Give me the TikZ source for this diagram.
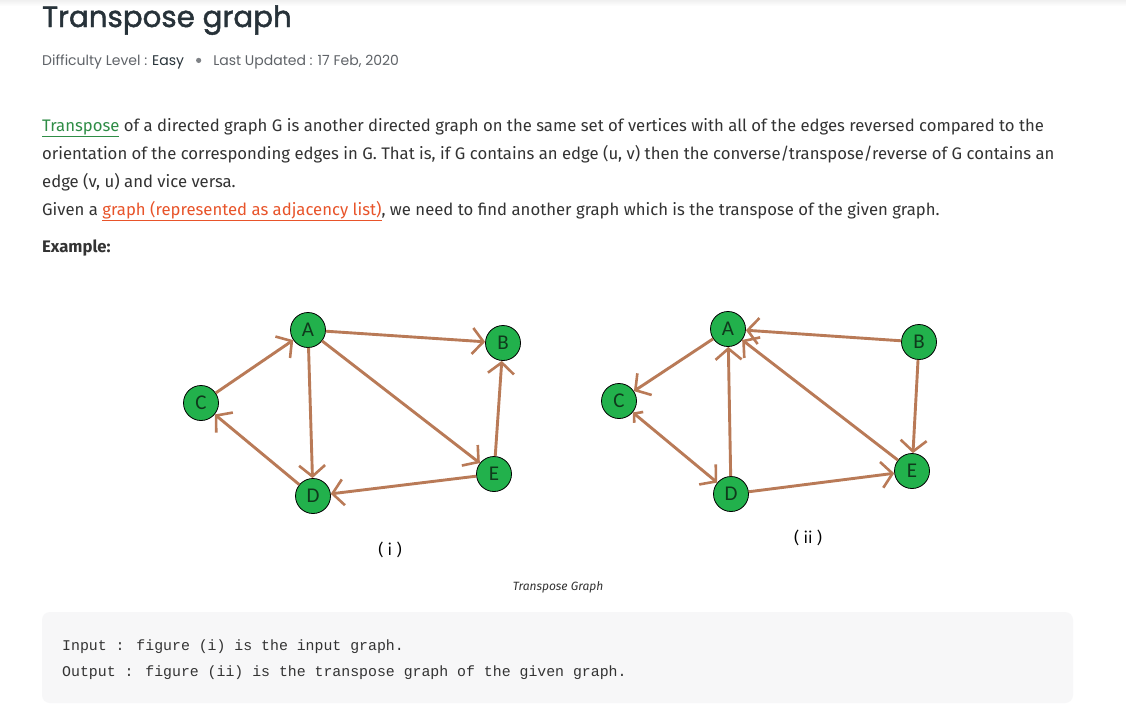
\documentclass[tikz,border=0pt]{standalone}
\usepackage{fontspec}
\setmainfont{Fira Sans}
\newfontfamily\titlefont{Poppins}
\newfontfamily\titleboldfont{Poppins}[FakeBold=1.6]
\newfontfamily\codefont{Liberation Mono}
\newfontfamily\vtxfont{Carlito}
\usetikzlibrary{arrows.meta}
\definecolor{txt}{HTML}{333333}
\definecolor{titlec}{HTML}{273239}
\definecolor{meta}{HTML}{5F6368}
\definecolor{lgreen}{HTML}{2F8D46}
\definecolor{lorange}{HTML}{E8542A}
\definecolor{edgec}{HTML}{B97A57}
\definecolor{nodec}{HTML}{22B14C}
\definecolor{codebg}{HTML}{F7F7F8}
\definecolor{vtxtxt}{HTML}{0F3A1C}
\tikzset{
  body/.style={anchor=base west, inner sep=0pt, text=txt, font=\fontsize{16.7}{18}\selectfont},
  vtx/.style={circle, draw=black, line width=0.8pt, fill=nodec, minimum size=35pt, inner sep=0pt, text=vtxtxt, font=\vtxfont\fontsize{21}{21}\selectfont},
  edge/.style={draw=edgec, line width=2.9pt, -{Straight Barb[length=11pt,width=26pt,line width=2.6pt]}},
  both/.style={draw=edgec, line width=2.9pt, {Straight Barb[length=6pt,width=14pt,line width=2.6pt]}-{Straight Barb[length=11pt,width=26pt,line width=2.6pt]}},
  codet/.style={anchor=base west, inner sep=0pt, text=txt, font=\codefont\fontsize{14.85}{16}\selectfont},
}
\begin{document}
\begin{tikzpicture}[x=1pt,y=-1pt]
\useasboundingbox (0,0) rectangle (1126,716);
\fill[white] (0,0) rectangle (1126,716);
\shade[top color=black!6, bottom color=white] (0,0) rectangle (1126,6);
% title
\node[anchor=base west, inner sep=0pt, text=titlec, font=\titleboldfont\fontsize{29.3}{30}\selectfont] (title) at (42,27) {Transpose graph};
\node[anchor=base west, inner sep=0pt, text=meta, font=\titlefont\fontsize{14}{14}\selectfont] (metaline) at (42,65)
  {Difficulty Level : \textcolor{titlec}{Easy}\hspace{12pt}\raisebox{2pt}{\tikz\fill[meta!80] (0,0) circle (2.6pt);}\hspace{12pt}Last Updated : 17 Feb, 2020};
% body
\node[body] (l1) at (42,131) {\textcolor{lgreen}{\underline{Transpose}} of a directed graph G is another directed graph on the same set of vertices with all of the edges reversed compared to the};
\node[body] (l2) at (42,159) {orientation of the corresponding edges in G. That is, if G contains an edge (u, v) then the converse/transpose/reverse of G contains an};
\node[body] (l3) at (42,187) {edge (v, u) and vice versa.};
\node[body] (l4) at (42,215) {Given a \textcolor{lorange}{\underline{graph (represented as adjacency list)}}, we need to find another graph which is the transpose of the given graph.};
\node[body, font=\fontsize{16.7}{18}\selectfont\bfseries] (ex) at (42,252) {Example:};
% graph (i)
\node[vtx] (A1) at (308,330) {A};
\node[vtx] (B1) at (503,343) {B};
\node[vtx] (C1) at (201,403) {C};
\node[vtx] (D1) at (313,496) {D};
\node[vtx] (E1) at (494,474) {E};
\draw[edge] (A1) -- (B1);
\draw[edge] (A1) -- (D1);
\draw[edge] (A1) -- (E1);
\draw[edge] (C1) -- (A1);
\draw[edge] (D1) -- (C1);
\draw[edge] (E1) -- (B1);
\draw[edge] (E1) -- (D1);
\node[anchor=center, text=black, font=\fontsize{16}{16}\selectfont] (cap1) at (390,550) {( i )};
% graph (ii)
\node[vtx] (A2) at (728,329) {A};
\node[vtx] (B2) at (919,342) {B};
\node[vtx] (C2) at (619,401) {C};
\node[vtx] (D2) at (731,494) {D};
\node[vtx] (E2) at (912,471) {E};
\draw[edge] (B2) -- (A2);
\draw[edge] (D2) -- (A2);
\draw[edge] (E2) -- (A2);
\draw[edge] (A2) -- (C2);
\draw[both] (C2) -- (D2);
\draw[edge] (B2) -- (E2);
\draw[edge] (D2) -- (E2);
\node[anchor=center, text=black, font=\fontsize{16}{16}\selectfont] (cap2) at (808,538) {( ii )};
\node[anchor=center, text=txt, font=\fontsize{12}{12}\selectfont\itshape] (figcap) at (558,587) {Transpose Graph};
% code box
\fill[codebg, rounded corners=8pt] (42,612) rectangle (1073,703);
\node[codet] (in) at (62,650) {Input : figure (i) is the input graph.};
\node[codet] (out) at (62,676) {Output : figure (ii) is the transpose graph of the given graph.};
\end{tikzpicture}
\end{document}
